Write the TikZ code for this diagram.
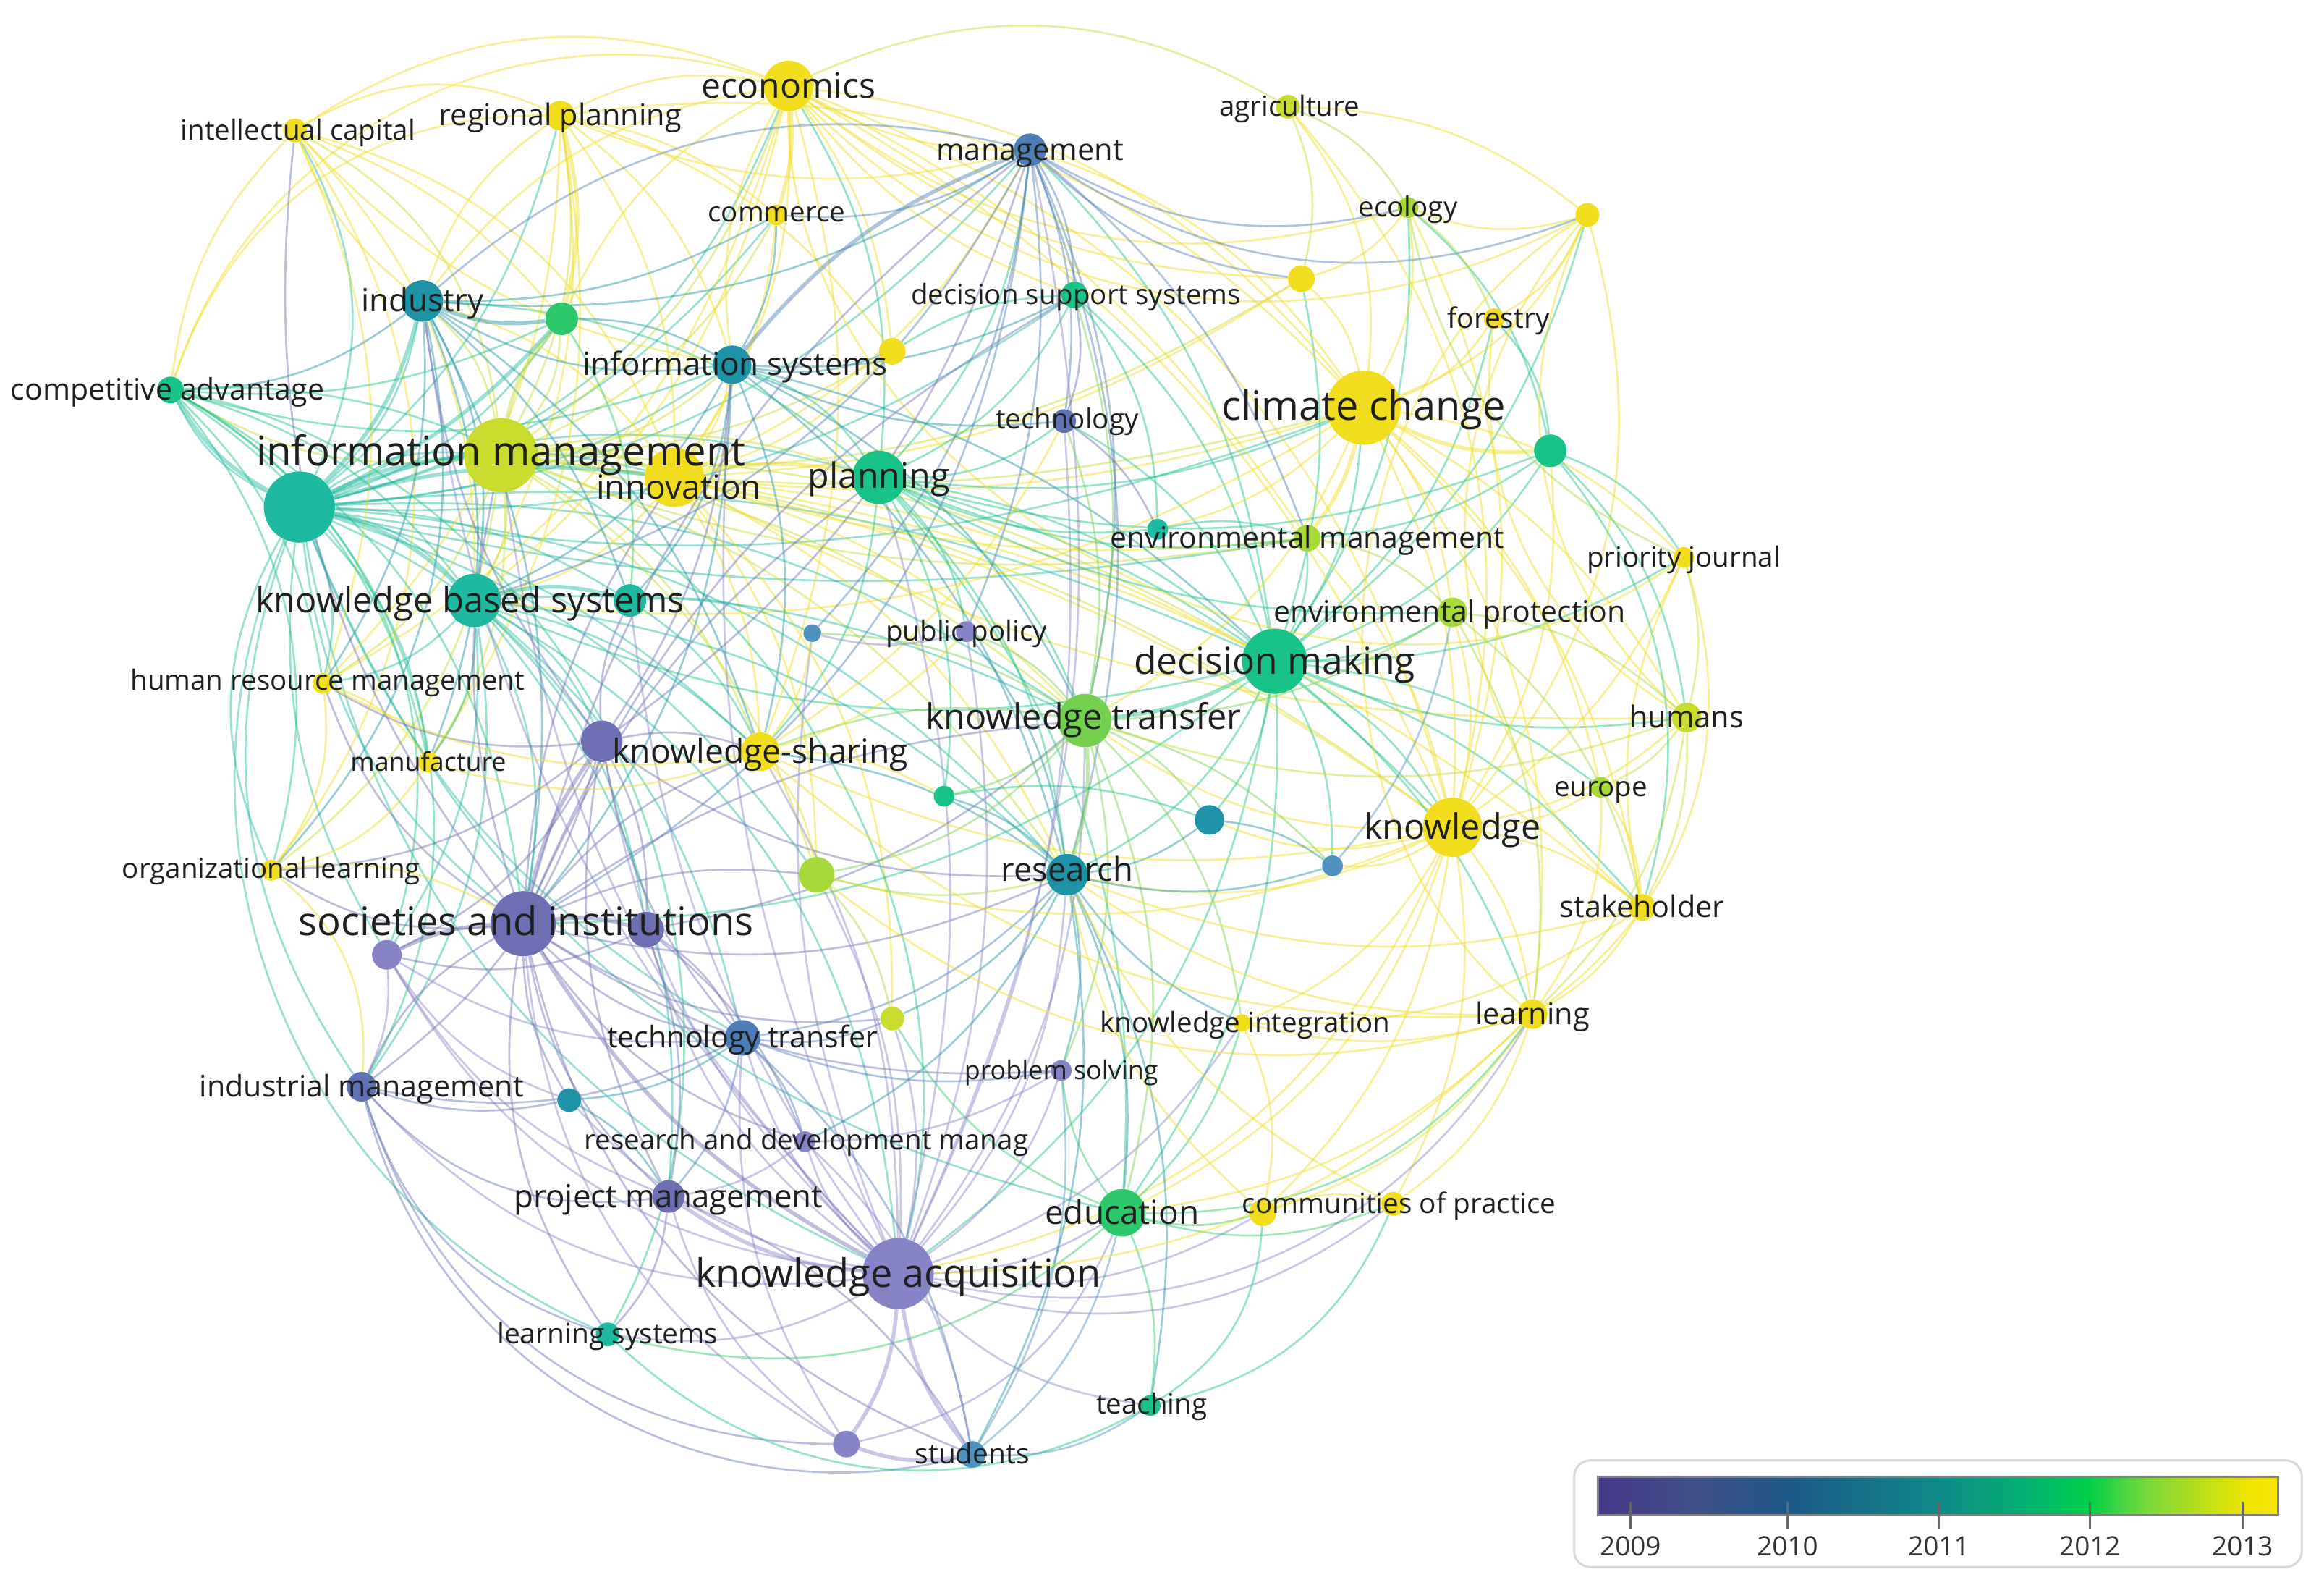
\documentclass[tikz,border=0pt]{standalone}
\usepackage{fontspec}
\setmainfont{Open Sans}
\pgfdeclarelayer{edges}
\pgfdeclarelayer{labels}
\pgfsetlayers{edges,main,labels}
\definecolor{cPur}{HTML}{8683C6}
\definecolor{cPurD}{HTML}{6E6FB2}
\definecolor{cPurB}{HTML}{5E72B4}
\definecolor{cBlue}{HTML}{4D7DB6}
\definecolor{cBlueL}{HTML}{4E92C0}
\definecolor{cTealB}{HTML}{1E92A6}
\definecolor{cTeal}{HTML}{1DB9A0}
\definecolor{cGreen}{HTML}{19C286}
\definecolor{cGreen2}{HTML}{2DC86A}
\definecolor{cLime}{HTML}{72D04E}
\definecolor{cLimeY}{HTML}{A5DA38}
\definecolor{cYG}{HTML}{C9DC2E}
\definecolor{cYel}{HTML}{F1DD1E}
\definecolor{txt}{HTML}{1F1F1F}
\definecolor{v0}{HTML}{433889}
\definecolor{v1}{HTML}{433F87}
\definecolor{v2}{HTML}{3E4F86}
\definecolor{v3}{HTML}{1D5886}
\definecolor{v4}{HTML}{0F8A88}
\definecolor{v5}{HTML}{04B070}
\definecolor{v6}{HTML}{00D04A}
\definecolor{v7}{HTML}{7CD83A}
\definecolor{v8}{HTML}{ECE400}
\definecolor{v9}{HTML}{F8E800}
\pgfdeclarehorizontalshading{viridis}{100bp}{color(0bp)=(v0); color(25bp)=(v0); color(27.5bp)=(v1); color(32bp)=(v2); color(39bp)=(v3); color(50bp)=(v4); color(56.5bp)=(v5); color(61bp)=(v6); color(65.5bp)=(v7); color(72.5bp)=(v8); color(75bp)=(v9); color(100bp)=(v9)}
\tikzset{
  dot/.style={circle,inner sep=0pt,draw=none},
  lbl/.style={anchor=base,inner sep=0pt,text=txt},
  e/.style={draw=col-#1,line width=1.3pt,draw opacity=0.45},
  ew/.style={draw=col-#1,line width=2.6pt,draw opacity=0.45}
}
\newcommand\kw[9]{%
  \colorlet{col-#1}{#5}%
  \node[dot,fill=#5,minimum size={2*#4pt}] (#1) at (#2,#3) {};%
  \pgfmathsetmacro\lyy{#7+0.34*#8}%
  \begin{pgfonlayer}{labels}\node[lbl,font=\fontsize{#8pt}{#8pt}\selectfont] (#1-t) at (#6,\lyy) {#9};\end{pgfonlayer}%
}
\newcommand\nd[5]{%
  \colorlet{col-#1}{#5}%
  \node[dot,fill=#5,minimum size={2*#4pt}] (#1) at (#2,#3) {};%
}
\begin{document}
\begin{tikzpicture}[x=1pt,y=-1pt]
\begin{pgfonlayer}{edges}
\fill[white] (0,0) rectangle (1568,1074);
\end{pgfonlayer}
\useasboundingbox (0,0) rectangle (1568,1074);
% ---------------- nodes
\nd{km}{202}{342}{24}{cTeal}
\kw{im}{338}{307}{25}{cYG}{338}{305}{27.5}{information management}
\kw{inn}{455}{322}{20}{cYel}{458}{329}{22.5}{innovation}
\kw{econ}{532}{58}{17}{cYel}{532}{58}{23.5}{economics}
\kw{regp}{378}{78}{10}{cYel}{378}{78}{20.2}{regional planning}
\kw{intc}{199}{88}{8}{cYel}{201}{88}{18.8}{intellectual capital}
\kw{agri}{869}{72}{8}{cYG}{870}{72}{18.8}{agriculture}
\kw{mgmt}{695}{101}{11}{cBlue}{695}{101}{20.3}{management}
\kw{comm}{524}{145}{7}{cYel}{524}{143}{18.8}{commerce}
\kw{ecol}{950}{140}{7}{cLimeY}{950}{140}{18.8}{ecology}
\nd{ua}{1071}{145}{8}{cYel}
\kw{ind}{285}{203}{14}{cTealB}{285}{203}{21.5}{industry}
\nd{ub}{379}{215}{11}{cGreen2}
\kw{dss}{725}{199}{9}{cGreen}{726}{199}{18.8}{decision support systems}
\nd{uc}{878}{188}{9}{cYel}
\kw{fore}{1008}{215}{7}{cYel}{1011}{215}{19}{forestry}
\kw{cadv}{115}{263}{9}{cGreen}{113}{263}{20}{competitive advantage}
\kw{infs}{494}{246}{13}{cTealB}{496}{246}{21.5}{information systems}
\nd{ud}{602}{237}{9}{cYel}
\kw{tech}{718}{284}{8}{cPurB}{720}{283}{18.8}{technology}
\kw{cc}{920}{275}{25}{cYel}{920}{274}{27.3}{climate change}
\nd{ue}{1046}{304}{11}{cGreen}
\kw{pl}{593}{322}{18}{cGreen}{593}{321}{23.6}{planning}
\nd{uf}{781}{357}{7}{cTeal}
\kw{envm}{882}{363}{9}{cLimeY}{882}{363}{20}{environmental management}
\kw{prio}{1136}{376}{7}{cYel}{1136}{376}{18.8}{priority journal}
\kw{kbs}{320}{405}{18}{cTeal}{317}{405}{23.8}{knowledge based systems}
\nd{ug}{425}{405}{11}{cTeal}
\nd{uh}{548}{427}{6}{cBlueL}
\kw{pubp}{652}{426}{7}{cPur}{652}{426}{18.8}{public policy}
\kw{envp}{980}{413}{10}{cLimeY}{978}{413}{20}{environmental protection}
\kw{dm}{860}{446}{22}{cGreen}{860}{446}{25.2}{decision making}
\kw{hrm}{218}{461}{7}{cYel}{221}{459}{18.8}{human resource management}
\kw{hum}{1138}{484}{10}{cYG}{1138}{484}{20.3}{humans}
\kw{kt}{732}{486}{18}{cLime}{731}{484}{23.7}{knowledge transfer}
\nd{ui}{406}{500}{14}{cPurD}
\kw{ksh}{513}{507}{13}{cYel}{513}{507}{22.6}{knowledge-sharing}
\kw{manu}{289}{514}{7}{cYel}{289}{514}{17.5}{manufacture}
\kw{eur}{1080}{531}{7}{cLimeY}{1080}{531}{18.8}{europe}
\nd{uj}{637}{537}{7}{cGreen}
\nd{uk}{816}{553}{10}{cTealB}
\kw{kn}{980}{558}{20}{cYel}{980}{558}{23.7}{knowledge}
\kw{orgl}{183}{587}{7}{cYel}{183}{586}{18.8}{organizational learning}
\nd{ul}{551}{590}{12}{cLimeY}
\kw{res}{720}{590}{14}{cTealB}{720}{587}{22.2}{research}
\nd{um}{899}{584}{7}{cBlueL}
\kw{stak}{1108}{612}{9}{cYel}{1108}{612}{20.2}{stakeholder}
\kw{soc}{353}{623}{22}{cPurD}{355}{622}{26.6}{societies and institutions}
\nd{un}{436}{627}{12}{cPurD}
\nd{uo}{261}{644}{10}{cPur}
\kw{lear}{1034}{684}{10}{cYel}{1034}{684}{20.2}{learning}
\kw{kint}{838}{690}{6}{cYel}{840}{690}{18.8}{knowledge integration}
\nd{up}{602}{687}{8}{cYG}
\kw{ttr}{501}{700}{12}{cBlue}{501}{700}{20.1}{technology transfer}
\kw{prob}{716}{722}{7}{cPur}{716}{722}{17.5}{problem solving}
\kw{indm}{244}{733}{10}{cPurB}{244}{733}{20.1}{industrial management}
\nd{uq}{384}{742}{8}{cTealB}
\kw{rdm}{543}{770}{7}{cPur}{544}{769}{18.8}{research and development manag}
\kw{pm}{451}{807}{11}{cPurD}{451}{807}{21.4}{project management}
\kw{edu}{757}{818}{16}{cGreen2}{757}{818}{22.4}{education}
\nd{ur}{852}{818}{9}{cYel}
\kw{cop}{940}{812}{8}{cYel}{944}{812}{18.9}{communities of practice}
\kw{ka}{606}{859}{24}{cPur}{606}{859}{26.4}{knowledge acquisition}
\kw{lsys}{410}{900}{8}{cTeal}{410}{900}{19}{learning systems}
\kw{teach}{776}{948}{7}{cGreen}{777}{947}{18.8}{teaching}
\kw{stud}{656}{981}{9}{cBlueL}{656}{981}{19}{students}
\nd{us}{571}{974}{9}{cPur}
% ---------------- edges
\begin{pgfonlayer}{edges}
\foreach \a/\b/\c in {
km/im/10,km/inn/10,km/pl/10,km/ind/-10,km/infs/-8,km/cadv/10,km/intc/-15,km/regp/-10,km/econ/-15,km/kbs/10,km/ug/8,km/hrm/10,km/orgl/-15,km/manu/10,km/soc/-12,km/ui/8,km/ksh/8,km/dm/8,km/kt/10,km/res/12,km/indm/-15,km/ka/-15,km/ub/-10,km/mgmt/-12,km/dss/-10,km/cc/-8,km/comm/-10,km/uo/-10,km/lsys/-25,km/edu/-15,km/ttr/-10,km/ul/10,km/envm/-6,
im/pl/8,im/econ/-10,im/regp/-10,im/intc/-15,im/ind/-10,im/infs/-10,im/comm/-10,im/ud/-8,im/kbs/10,im/ksh/10,im/cc/-6,im/dm/8,im/kt/8,im/kn/8,im/hrm/10,im/orgl/12,im/manu/10,im/cadv/10,im/ub/-10,im/envm/-8,im/ul/10,im/res/10,im/uc/-10,
inn/econ/-10,inn/regp/-10,inn/comm/-8,inn/ud/-8,inn/infs/-8,inn/ksh/8,inn/kt/8,inn/dm/6,inn/cc/-6,inn/kn/6,inn/res/10,inn/ul/10,inn/ind/-10,inn/mgmt/-10,inn/envm/-6,inn/uc/-8,inn/kbs/10,inn/intc/-15,inn/up/12,inn/hum/-8,inn/stak/8,
pl/dm/8,pl/kt/10,pl/res/10,pl/mgmt/-10,pl/dss/-10,pl/cc/-8,pl/econ/-10,pl/envm/-8,pl/infs/-10,pl/tech/-10,pl/ksh/10,pl/uj/10,pl/kn/8,pl/envp/-8,pl/uf/-8,pl/edu/12,pl/ind/-10,pl/ue/-10,pl/pubp/10,
dm/cc/-8,dm/kn/8,dm/res/10,dm/envm/-8,dm/envp/-8,dm/mgmt/-10,dm/dss/-10,dm/tech/-10,dm/ue/-10,dm/hum/-8,dm/uk/8,dm/lear/8,dm/stak/8,dm/edu/10,dm/eur/8,dm/um/8,dm/prio/-8,dm/ka/12,dm/soc/10,dm/ecol/-10,dm/fore/-10,dm/ua/-10,dm/uc/-8,dm/kbs/10,
cc/envp/8,cc/kn/8,cc/fore/-10,cc/ecol/-10,cc/agri/-12,cc/ua/-12,cc/uc/-10,cc/hum/8,cc/stak/10,cc/lear/12,cc/eur/10,cc/prio/10,cc/econ/-12,cc/mgmt/-10,cc/kt/10,cc/regp/-15,cc/kbs/10,cc/uf/8,
kn/lear/8,kn/stak/8,kn/hum/-8,kn/eur/-8,kn/cop/10,kn/ur/10,kn/kint/10,kn/envp/-8,kn/res/10,kn/um/10,kn/uk/10,kn/edu/12,kn/kt/10,kn/ka/15,kn/prio/-8,kn/ua/-15,kn/ue/-10,kn/ecol/-12,kn/agri/-15,kn/envm/-8,kn/econ/-15,
hum/stak/8,hum/lear/10,hum/eur/8,hum/prio/-8,stak/lear/8,stak/eur/-8,lear/cop/10,lear/eur/-10,ue/envm/8,ue/ecol/-10,ue/fore/-10,ue/hum/10,ue/prio/10,ue/stak/15,ua/ecol/10,ua/fore/10,ua/hum/-20,ua/agri/-10,ecol/fore/8,ecol/agri/-10,agri/econ/-15,agri/uc/10,uc/ecol/-10,envp/hum/10,envp/stak/10,envp/lear/10,envm/envp/10,lear/ur/10,kint/lear/-8,prio/lear/20,ua/lear/-30,prio/stak/-10,ua/stak/-25,fore/hum/-18,ecol/prio/-15,
econ/regp/-10,econ/intc/-15,econ/ind/-12,econ/infs/-10,econ/mgmt/-8,econ/ud/8,econ/ub/-10,econ/cadv/-25,econ/uc/-10,econ/ua/-20,econ/ecol/-15,econ/kbs/10,econ/ksh/10,econ/dss/-8,econ/envm/8,econ/prio/-35,econ/kn/10,econ/hrm/12,
regp/intc/-15,regp/ind/-10,regp/cadv/-20,regp/kbs/10,regp/comm/8,regp/infs/10,regp/hrm/12,regp/manu/12,regp/mgmt/-10,regp/ud/10,
intc/cadv/-10,intc/ind/-8,intc/kbs/12,intc/hrm/12,intc/orgl/20,intc/ub/8,intc/infs/-10,
ind/infs/-10,ind/cadv/10,ind/kbs/10,ind/mgmt/-10,ind/comm/-8,ind/ug/8,ind/soc/10,ind/hrm/10,ind/ksh/10,ind/manu/12,ind/orgl/15,
cadv/kbs/10,cadv/hrm/10,cadv/orgl/15,cadv/soc/15,cadv/indm/25,cadv/infs/-10,cadv/ub/-8,cadv/manu/12,cadv/ka/30,cadv/lsys/30,cadv/uo/22,
infs/dss/-8,infs/ud/-8,infs/kbs/10,infs/comm/-8,infs/ub/-8,infs/soc/10,infs/kt/10,infs/res/10,infs/tech/-8,infs/ug/10,infs/ksh/10,infs/dm/8,
mgmt/dss/8,mgmt/tech/8,mgmt/comm/10,mgmt/ecol/-12,mgmt/uc/-10,mgmt/kt/10,mgmt/res/10,mgmt/uh/10,mgmt/kbs/12,mgmt/soc/15,mgmt/ind/-15,mgmt/pubp/8,mgmt/envm/8,mgmt/ua/-15,
kbs/soc/10,kbs/ui/10,kbs/hrm/10,kbs/ksh/8,kbs/kt/8,kbs/res/10,kbs/ka/15,kbs/manu/10,kbs/indm/12,kbs/un/10,kbs/ttr/10,kbs/pm/12,kbs/uo/10,
soc/indm/-10,soc/ttr/-10,soc/pm/-10,soc/ksh/8,soc/uq/-8,soc/rdm/-10,soc/hrm/10,soc/orgl/10,soc/res/-10,soc/ul/8,soc/prob/-10,soc/kt/8,soc/up/-10,soc/lsys/-12,soc/stud/-15,soc/inn/8,soc/pl/8,soc/im/8,soc/mgmt/10,soc/dss/10,soc/intc/12,
ka/ttr/8,ka/rdm/8,ka/teach/-10,ka/edu/-8,ka/lsys/10,ka/un/10,ka/ui/10,ka/prob/-10,ka/indm/15,ka/res/-10,ka/kt/-10,ka/up/-8,ka/uq/10,ka/ur/-10,ka/kint/-10,ka/cop/-15,ka/lear/-20,ka/uo/15,ka/ksh/-8,ka/ul/-8,ka/ind/10,ka/infs/8,ka/im/10,ka/pl/-8,ka/pubp/-8,ka/tech/-8,ka/mgmt/-10,ka/uh/8,ka/ug/8,
ui/ksh/8,ui/un/8,ui/uo/10,ui/ttr/-8,ui/pm/-10,ui/indm/10,ui/ug/8,ui/hrm/10,ui/res/-10,ui/orgl/10,ui/infs/-8,ui/mgmt/-10,ui/ind/8,un/ttr/8,un/pm/8,un/rdm/8,un/uo/10,un/kt/-8,uo/indm/8,uo/pm/-10,uo/uq/-10,uo/ttr/-10,indm/pm/-15,indm/uq/-8,indm/ttr/-10,indm/lsys/-15,indm/stud/-25,indm/us/-20,uq/pm/8,uq/ttr/-8,ttr/rdm/8,ttr/pm/8,ttr/prob/-8,ttr/res/-10,ttr/up/-8,ttr/stud/10,rdm/pm/8,rdm/prob/-8,rdm/stud/10,pm/lsys/10,pm/stud/10,us/pm/10,us/edu/-15,us/ttr/10,us/soc/15,stud/teach/-10,stud/edu/-10,stud/prob/-10,
kt/ksh/-8,kt/uj/8,kt/uk/8,kt/edu/10,kt/tech/-8,kt/pubp/-8,kt/ul/10,kt/uh/-8,kt/dss/-8,kt/um/8,kt/kint/10,kt/prob/10,kt/envp/-8,
res/edu/8,res/uk/-8,res/uj/-8,res/prob/8,res/kint/-8,res/up/8,res/teach/10,res/stud/10,res/pubp/-8,res/um/-8,res/ksh/-8,res/rdm/10,
edu/teach/8,edu/cop/-10,edu/ur/-8,edu/lear/-15,edu/prob/8,edu/lsys/15,edu/kint/-8,edu/up/10,teach/ur/-15,teach/lsys/20,teach/cop/-15,
lear/ka/12,lear/edu/10,lear/res/10,lear/ksh/12,kn/ksh/10,kn/ul/10,stak/res/10,hum/kt/10,cop/res/10,ur/res/10,lear/ul/15,stak/kint/10,
ksh/ul/8,ksh/uj/8,ksh/tech/-8,ksh/pubp/-8,ksh/uh/-8,ksh/manu/10,ksh/hrm/10,ul/up/8,ul/res/-8,uj/uk/8,uk/um/8,um/envp/-8,tech/dss/-8,tech/uf/8,pubp/uh/8,dss/ud/-8,dss/uf/10,uf/envm/8,ub/ug/10,ug/ksh/8,ug/uh/8,hrm/manu/10,hrm/orgl/12,manu/orgl/12,orgl/indm/15,orgl/soc/10,cop/ur/-10,kint/ur/10}
  {\pgfmathsetmacro\bb{1.8*\c}\draw[e=\a] (\a) to[bend left=\bb] (\b);}
\foreach \a/\b/\c in {km/im/6,km/kbs/8,km/ind/-8,km/cadv/8,km/inn/6,im/inn/8,inn/pl/6,soc/ka/-8,soc/ui/6,soc/un/6,soc/uo/-6,ka/pm/8,ka/us/8,ka/stud/-8,us/stud/-8,cc/ue/-8,cc/envm/6,dm/kt/6,kbs/ug/8,ind/ub/-8,regp/ub/8,econ/comm/6,mgmt/infs/-8,kt/res/6,im/ub/8,km/ub/-6}
  {\pgfmathsetmacro\bb{1.8*\c}\draw[ew=\a] (\a) to[bend left=\bb] (\b);}
\end{pgfonlayer}
% ---------------- legend
\draw[draw=black!15,line width=1.5pt,rounded corners=11pt,fill=white] (1062,985) rectangle (1553,1057);
\shade[shading=viridis] (1078,996) rectangle (1537,1022);
\draw[draw=black!50,line width=1.6pt] (1078,996) rectangle (1537,1022);
\foreach \x/\yr in {1100/2009,1206/2010,1308/2011,1410/2012,1513/2013}{
  \draw[black!60,line width=1.4pt] (\x,1013) -- (\x,1031);
  \node[lbl,text=black!80,font=\fontsize{18}{18}\selectfont] (yr\yr) at (\x,1049.5) {\yr};
}
\end{tikzpicture}
\end{document}
